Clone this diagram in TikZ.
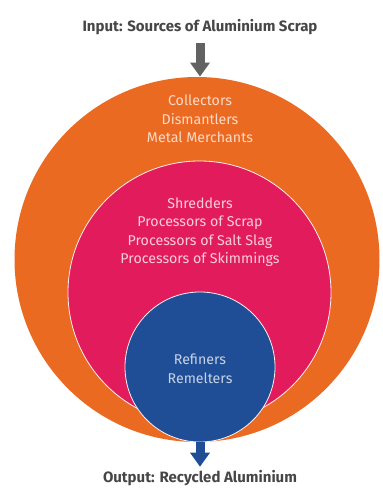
\documentclass[tikz,border=0pt]{standalone}
\usepackage{fontspec}
\setmainfont{Fira Sans}
\usetikzlibrary{arrows.meta}

\definecolor{scraporange}{HTML}{EB6A22}
\definecolor{scrappink}{HTML}{E21C5C}
\definecolor{scrapblue}{HTML}{1F4E96}
\definecolor{captiongrey}{HTML}{464646}

\tikzset{
    ring/.style={circle, inner sep=0pt, draw=white!75!pink, line width=0.8pt},
    ringtext/.style={font=\fontsize{14.2}{18.5}\selectfont},
    caption/.style={font=\fontsize{15}{17}\selectfont\bfseries, text=captiongrey},
    flow/.style={line width=9pt, -{Triangle[width=19pt,length=14pt]}}
}

\begin{document}
\begin{tikzpicture}[x=1pt, y=1pt, every text node part/.style={align=center}]
        \useasboundingbox (0,0) rectangle (383,491);
        % the three circles, outermost first
        \node[ring, draw=none, fill=scraporange, minimum size=365pt] (outer) at (197,231.5) {};
        \node[ring, fill=scrappink, minimum size=263pt] (middle) at (199.5,198.5) {};
        \node[ring, fill=scrapblue, minimum size=150pt] (inner) at (200,124) {};
        % labels inside the circles
        \node[ringtext, text=white!75!scraporange] (collectors) at (200,372) {Collectors\\Dismantlers\\Metal Merchants};
        \node[ringtext, text=white!78!scrappink] (processors) at (200,259) {Shredders\\Processors of Scrap\\Processors of Salt Slag\\Processors of Skimmings};
        \node[ringtext, text=white!75!scrapblue] (refiners) at (200,122) {Refiners\\Remelters};
        % input and output
        \node[caption] (input) at (200,464) {Input: Sources of Aluminium Scrap};
        \node[caption] (output) at (200,13) {Output: Recycled Aluminium};
        \coordinate (inarrow) at (200,448);
        \draw[flow, captiongrey!85] (inarrow) -- (inarrow |- outer.north);
        \draw[flow, scrapblue] (inner.south) -- (output.north);
    \end{tikzpicture}
\end{document}
